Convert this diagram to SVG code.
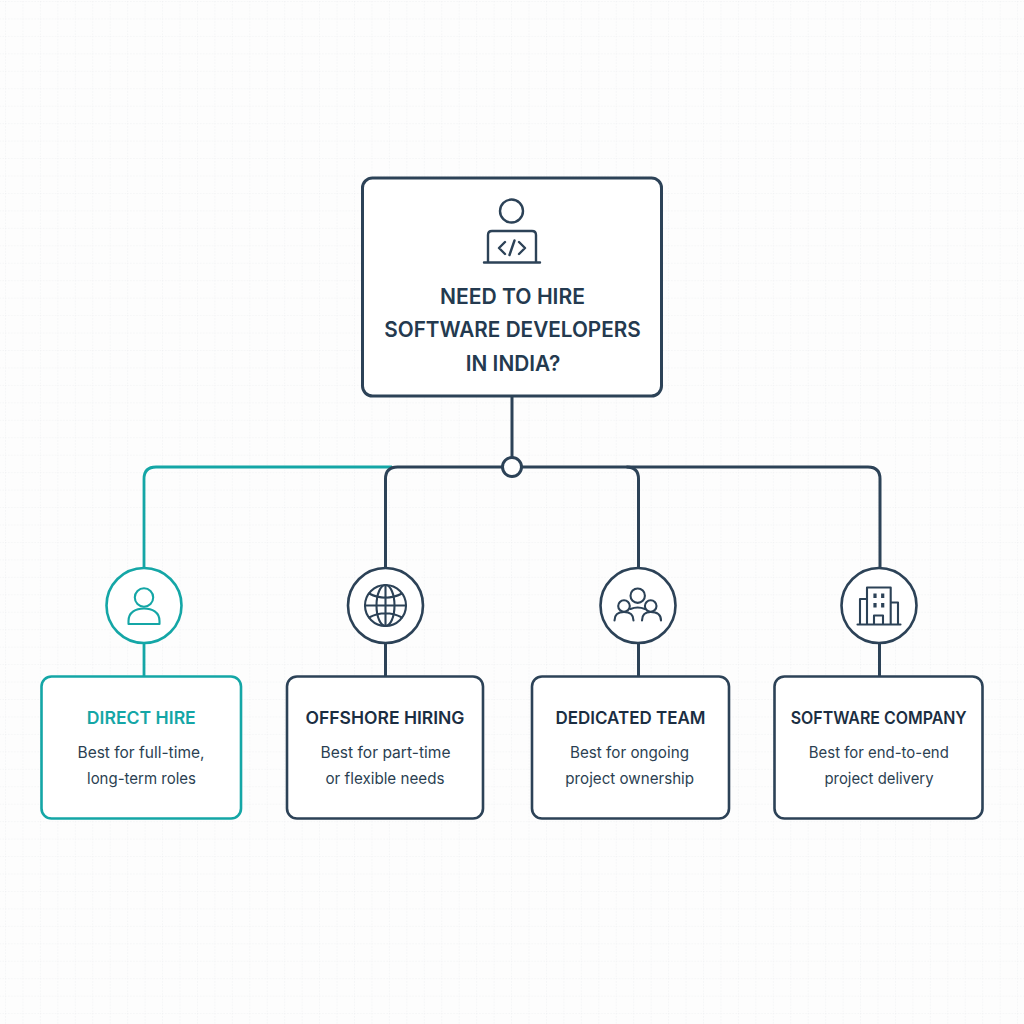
<svg xmlns="http://www.w3.org/2000/svg" width="1024" height="1024" viewBox="0 0 1024 1024">
<style>
.t{font-family:Inter,"Liberation Sans",sans-serif;text-anchor:middle}
.h{font-size:21.5px;font-weight:600;fill:#243a4f}
.n{font-size:17.500px;font-weight:600;fill:#1b2e42}
.d{font-size:15.500px;font-weight:400;fill:#2b3f52}
.box{fill:#fff;stroke:#2c4257;stroke-width:2.600}
.c{fill:#fff;stroke:#2c4257;stroke-width:2.600}
.tb{stroke:#14a6a6}
.i{fill:none;stroke:#2c4257;stroke-width:2.100;stroke-linecap:round;stroke-linejoin:round}
.ti{stroke:#14a6a6}
.w{fill:none;stroke:#2c4257;stroke-width:3}
.wt{fill:none;stroke:#14a6a6;stroke-width:2.800}
</style>
<defs>
<pattern id="grid" x="5" y="1" width="17.450" height="17.450" patternUnits="userSpaceOnUse">
<path d="M0 0H17.450M0 0V17.450" fill="none" stroke="#ebedef" stroke-width="1" stroke-dasharray="1.500 1.500"/>
</pattern>
</defs>
<rect width="1024" height="1024" fill="#fdfdfd"/>
<rect width="1024" height="1024" fill="url(#grid)"/>
<g id="connectors">
<path class="wt" d="M144 568V479Q144 467 156 467H392"/>
<path class="wt" d="M144 642V677"/>
<path class="w" d="M512 396V458"/>
<path class="w" d="M385.500 568V479Q385.500 467 397.500 467H868Q880 467 880 479V568"/>
<path class="w" d="M638.500 568V479Q638.500 467 626.500 467"/>
<path class="w" d="M385.500 642V677M638.500 642V677M879.500 642V677"/>
<circle cx="512" cy="467" r="9.500" fill="#fff" stroke="#2c4257" stroke-width="3"/>
</g>
<g id="root">
<rect class="box" x="362.500" y="178" width="299" height="218" rx="10" style="stroke-width:3"/>
<g class="i" style="stroke-width:2.400">
<circle cx="511.500" cy="211" r="11.500"/>
<path d="M488 262V235Q488 231 492 231H532Q536 231 536 235V262M484 262.500H540"/>
<path d="M505 242L499 248L505 254M519 242L525 248L519 254M514.500 240.500L509.500 255"/>
</g>
<text class="t h" x="512.500" y="303.500" textLength="145" lengthAdjust="spacingAndGlyphs">NEED TO HIRE</text>
<text class="t h" x="512.500" y="336.500" textLength="256.500" lengthAdjust="spacingAndGlyphs">SOFTWARE DEVELOPERS</text>
<text class="t h" x="513" y="370.500" textLength="94.500" lengthAdjust="spacingAndGlyphs">IN INDIA?</text>
</g>
<g id="direct-hire">
<circle class="c tb" cx="144" cy="605.500" r="37.500"/>
<g class="i ti">
<circle cx="144" cy="597.500" r="9.200"/>
<path d="M128.500 624H159.500V621C159.500 612 152 608.500 144 608.500C136 608.500 128.500 612 128.500 621Z"/>
</g>
<rect class="box tb" x="41.500" y="676.500" width="199.500" height="142" rx="10"/>
<text class="t n" style="fill:#14a6a6" x="141.300" y="723.500" textLength="109" lengthAdjust="spacingAndGlyphs">DIRECT HIRE</text>
<text class="t d" x="141" y="758" textLength="127" lengthAdjust="spacingAndGlyphs">Best for full-time,</text>
<text class="t d" x="141.500" y="783.500" textLength="109" lengthAdjust="spacingAndGlyphs">long-term roles</text>
</g>
<g id="offshore-hiring">
<circle class="c" cx="385.500" cy="605.500" r="37.500"/>
<g class="i">
<circle cx="385.500" cy="605.500" r="20.500"/>
<ellipse cx="385.500" cy="605.500" rx="9" ry="20.500"/>
<path d="M365 605.500H406M385.500 585V626M369 593.500Q385.500 602 402 593.500M369 617.500Q385.500 609 402 617.500"/>
</g>
<rect class="box" x="287" y="676.500" width="196" height="142" rx="10"/>
<text class="t n" x="385" y="723.500" textLength="159" lengthAdjust="spacingAndGlyphs">OFFSHORE HIRING</text>
<text class="t d" x="385.500" y="758" textLength="130" lengthAdjust="spacingAndGlyphs">Best for part-time</text>
<text class="t d" x="385" y="783.500" textLength="119" lengthAdjust="spacingAndGlyphs">or flexible needs</text>
</g>
<g id="dedicated-team">
<circle class="c" cx="638" cy="605.500" r="37.500"/>
<g class="i">
<circle cx="637.700" cy="595.700" r="7.200"/>
<circle cx="624" cy="606" r="5.800"/>
<circle cx="650.700" cy="606" r="5.800"/>
<path d="M614.500 620.500C614.500 614.500 618.500 612 624 612C629.500 612 633.500 614.500 633.500 620.500M642 620.500C642 614.500 645.500 612 650.700 612C656.500 612 661 614.500 661 620.500M630.500 609Q637.500 606 645 609"/>
</g>
<rect class="box" x="532" y="676.500" width="197" height="142" rx="10"/>
<text class="t n" x="630.500" y="723.500" textLength="150" lengthAdjust="spacingAndGlyphs">DEDICATED TEAM</text>
<text class="t d" x="629.500" y="758" textLength="119" lengthAdjust="spacingAndGlyphs">Best for ongoing</text>
<text class="t d" x="629.700" y="783.500" textLength="128.700" lengthAdjust="spacingAndGlyphs">project ownership</text>
</g>
<g id="software-company">
<circle class="c" cx="879" cy="605.500" r="37.500"/>
<g class="i">
<path d="M857.500 624.500H900.500M867 624V587.500H890.700V624M867 599H860V624M890.700 602.500H898V624M874 624V615.500H883V624"/>
<path d="M875 593.500V598M882.700 593.500V598M875 603V607.500M882.700 603V607.500" style="stroke-width:3.200;stroke-linecap:butt"/>
</g>
<rect class="box" x="774.500" y="676.500" width="208" height="142" rx="10"/>
<text class="t n" x="878.700" y="723.500" textLength="176" lengthAdjust="spacingAndGlyphs">SOFTWARE COMPANY</text>
<text class="t d" x="878.800" y="758" textLength="140" lengthAdjust="spacingAndGlyphs">Best for end-to-end</text>
<text class="t d" x="879" y="783.500" textLength="109" lengthAdjust="spacingAndGlyphs">project delivery</text>
</g>
</svg>
